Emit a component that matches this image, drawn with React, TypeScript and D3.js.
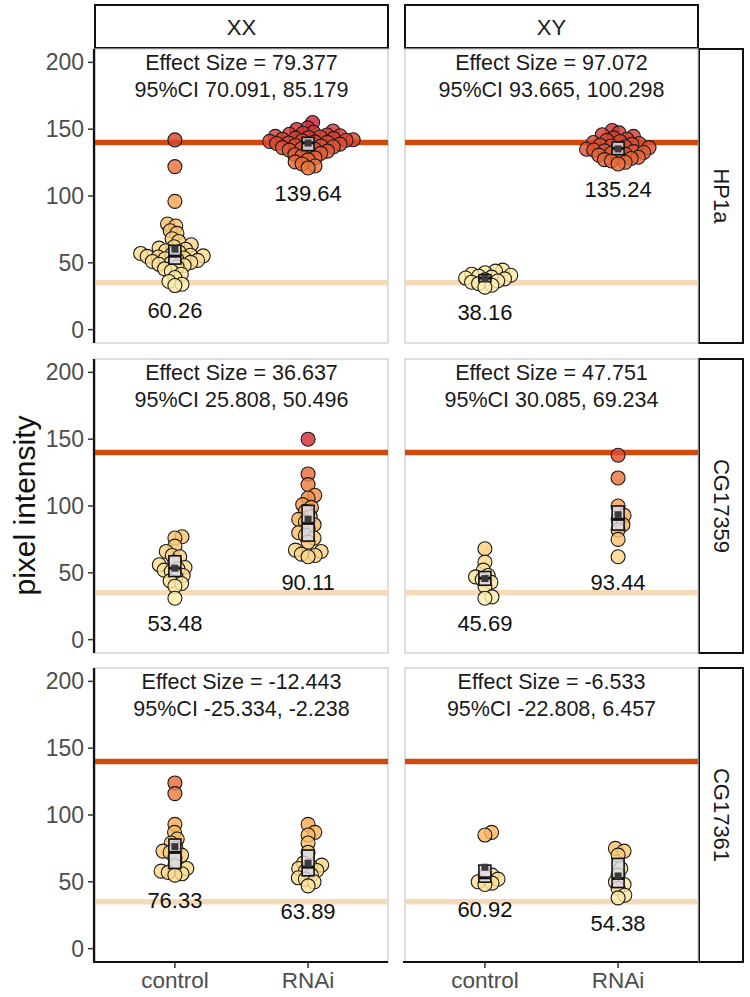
import * as d3 from "d3";

// facet levels
const genes = ["HP1a", "CG17359", "CG17361"];
const sexes = ["XX", "XY"];
const conditions = ["control", "RNAi"];

// pixel intensity per nucleus
const hp1aXXControl = [142, 122, 96, 79, 77.5, 74, 72, 68, 66, 63.5, 62, 61, 60.2, 59, 58.1, 57, 56.4, 55.7, 55.2, 54.8, 54.3, 53.6, 53, 52.4, 51.8, 51, 50.3, 49.6, 48.9, 48, 47, 45.5, 43.7, 41.5, 39, 36, 34, 33];
const hp1aXXRNAi = [155, 151, 149.8, 148.6, 147.7, 146.9, 146.2, 145.6, 145.1, 144.6, 144.1, 143.7, 143.3, 142.9, 142.5, 142.1, 141.7, 141.3, 140.9, 140.5, 140.1, 139.7, 139.3, 138.8, 138.3, 137.8, 137.3, 136.8, 136.2, 135.6, 135, 134.3, 133.6, 132.8, 131.9, 130.9, 129.8, 128.5, 127, 125.5, 124, 122.5, 121];
const hp1aXYControl = [44.5, 43.8, 42.6, 41.5, 40.7, 40, 39.3, 38.6, 38, 37.2, 36.4, 35.5, 34.4, 33.2, 31.8];
const hp1aXYRNAi = [149, 147.2, 145.8, 144.6, 143.5, 142.5, 141.6, 140.8, 140, 139.3, 138.6, 138, 137.4, 136.8, 136.2, 135.6, 135, 134.4, 133.8, 133.2, 132.6, 132, 131.3, 130.6, 129.8, 129, 128.1, 127.2, 126.2, 125.2, 124];
const cg17359XXControl = [77, 76, 70, 66, 63, 62, 58, 56, 54, 53, 52, 51, 48, 47, 44, 42, 40, 31];
const cg17359XXRNAi = [150, 124, 116, 108, 106, 101, 99, 96, 92, 90, 88, 86, 83, 80, 78, 76, 73, 67, 66, 64, 63, 62];
const cg17359XYControl = [68, 58, 52, 48, 47, 45, 43, 40, 32, 31];
const cg17359XYRNAi = [138, 121, 100, 93, 90, 86, 82, 75, 62];
const cg17361XXControl = [124, 116, 93, 87, 82, 79, 75, 73, 72, 70, 68, 62, 60, 58, 57, 56, 55];
const cg17361XXRNAi = [93, 87, 85, 79, 72, 64, 62.5, 62, 60, 58.5, 58, 55, 53, 52, 50, 47];
const cg17361XYControl = [87, 85, 55, 54, 52, 50, 49, 48];
const cg17361XYRNAi = [75, 73, 70, 60, 55, 50, 48, 45, 40, 38];

// group means shown under each swarm
const meansXX = [[60.26, 139.64], [53.48, 90.11], [76.33, 63.89]];
const meansXY = [[38.16, 135.24], [45.69, 93.44], [60.92, 54.38]];

// effect size with 95% CI per panel [XX, XY]
const effectSize = [[79.377, 97.072], [36.637, 47.751], [-12.443, -6.533]];
const ciLow = [[70.091, 93.665], [25.808, 30.085], [-25.334, -22.808]];
const ciHigh = [[85.179, 100.298], [50.496, 69.234], [-2.238, 6.457]];

const refHigh = 140;
const refLow = 35;
const yTicks = [0, 50, 100, 150, 200];

const values = [
  [[hp1aXXControl, hp1aXXRNAi], [hp1aXYControl, hp1aXYRNAi]],
  [[cg17359XXControl, cg17359XXRNAi], [cg17359XYControl, cg17359XYRNAi]],
  [[cg17361XXControl, cg17361XXRNAi], [cg17361XYControl, cg17361XYRNAi]],
];
const means = [meansXX, meansXY];

const font = "Liberation Sans, Arial, Helvetica, sans-serif";
const panelLeft = [95, 405];
const panelTop = [49, 359, 668];
const pw = 293;
const ph = 294;

const color = d3
  .scaleLinear<string>()
  .domain([30, 60, 90, 120, 140, 160])
  .range(["#fdf0b0", "#fbd98a", "#f9b058", "#eb763c", "#da4a30", "#c5173e"])
  .clamp(true);

// simple beeswarm: place each point as close to the centre as it can go
function swarm(ys: number[], d: number) {
  const placed: { x: number; y: number }[] = [];
  const out: number[] = new Array(ys.length).fill(0);
  const order = d3.range(ys.length).sort((a, b) => ys[b] - ys[a]);
  for (const i of order) {
    const y = ys[i];
    const cands = [0];
    for (const p of placed) {
      const dy = Math.abs(p.y - y);
      if (dy < d) {
        const dx = Math.sqrt(d * d - dy * dy);
        cands.push(p.x + dx + 0.01, p.x - dx - 0.01);
      }
    }
    cands.sort((a, b) => Math.abs(a) - Math.abs(b));
    let x = 0;
    for (const c of cands) {
      if (placed.every((p) => (p.x - c) ** 2 + (p.y - y) ** 2 >= d * d - 0.05)) {
        x = c;
        break;
      }
    }
    placed.push({ x, y });
    out[i] = x;
  }
  return out;
}

function Panel({ row, col }: { row: number; col: number }) {
  const x0 = panelLeft[col];
  const y0 = panelTop[row];
  // discrete x with ggplot's 0.6 expansion on each side
  const x = d3.scalePoint().domain(conditions).range([x0 + (0.6 / 2.2) * pw, x0 + (1.6 / 2.2) * pw]);
  const y = d3.scaleLinear().domain([-10, 210]).range([y0 + ph, y0]);
  return (
    <g>
      <rect x={x0} y={y0} width={pw} height={ph} fill="white" stroke="#c8c8c8" strokeWidth={1.2} />
      <line x1={x0} x2={x0 + pw} y1={y(refHigh)} y2={y(refHigh)} stroke="#cf4b0c" strokeWidth={5.5} />
      <line x1={x0} x2={x0 + pw} y1={y(refLow)} y2={y(refLow)} stroke="#f6d9b6" strokeWidth={5.5} />
      <text x={x0 + pw / 2} y={y0 + 21} textAnchor="middle" fontSize={21.5} fill="#1a1a1a">
        {`Effect Size = ${effectSize[row][col].toFixed(3)}`}
      </text>
      <text x={x0 + pw / 2} y={y0 + 48} textAnchor="middle" fontSize={21.5} fill="#1a1a1a">
        {`95%CI ${ciLow[row][col].toFixed(3)}, ${ciHigh[row][col].toFixed(3)}`}
      </text>
      {conditions.map((c, ci) => {
        const vals = values[row][col][ci];
        const ys = vals.map((v) => y(v));
        const offs = swarm(ys, 7.2);
        const cx = x(c)!;
        const sorted = [...vals].sort(d3.ascending);
        const q1 = d3.quantile(sorted, 0.25)!;
        const q3 = d3.quantile(sorted, 0.75)!;
        const med = d3.median(vals)!;
        const m = means[col][row][ci];
        const bw = 12;
        return (
          <g key={c}>
            {vals.map((v, i) => (
              <circle key={i} cx={cx + offs[i]} cy={ys[i]} r={7} fill={color(v)} fillOpacity={0.82} stroke="#1a1a1a" strokeWidth={1.1} />
            ))}
            <rect x={cx - bw / 2} y={y(q3)} width={bw} height={y(q1) - y(q3)} fill="#dcdcec" fillOpacity={0.8} stroke="#111" strokeWidth={1.6} />
            <line x1={cx - bw / 2} x2={cx + bw / 2} y1={y(med)} y2={y(med)} stroke="#111" strokeWidth={3} />
            <rect x={cx - 3.5} y={y(m) - 3.5} width={7} height={7} fill="#3a3a3a" />
            <text x={cx} y={y(d3.min(vals)! - 19)} textAnchor="middle" dominantBaseline="central" fontSize={22} fill="#111">
              {m.toFixed(2)}
            </text>
          </g>
        );
      })}
      {col === 0 && (
        <g>
          <line x1={x0 - 1} x2={x0 - 1} y1={y0} y2={y0 + ph} stroke="#111" strokeWidth={2.2} />
          {yTicks.map((t) => (
            <g key={t}>
              <line x1={x0 - 7} x2={x0 - 1} y1={y(t)} y2={y(t)} stroke="#333" strokeWidth={1.5} />
              <text x={x0 - 11} y={y(t)} textAnchor="end" dominantBaseline="central" fontSize={23} fill="#4d4d4d">
                {t}
              </text>
            </g>
          ))}
        </g>
      )}
      {row === genes.length - 1 && (
        <g>
          <line x1={x0 - 2} x2={x0 + pw} y1={y0 + ph} y2={y0 + ph} stroke="#111" strokeWidth={2.2} />
          {conditions.map((c) => (
            <g key={c}>
              <line x1={x(c)!} x2={x(c)!} y1={y0 + ph} y2={y0 + ph + 6} stroke="#333" strokeWidth={1.5} />
              <text x={x(c)!} y={y0 + ph + 26} textAnchor="middle" fontSize={22.5} fill="#4d4d4d">
                {c}
              </text>
            </g>
          ))}
        </g>
      )}
    </g>
  );
}

export default function App() {
  const stripRight = panelLeft[1] + pw + 1;
  return (
    <svg width={750} height={997} style={{ position: "absolute", left: 0, top: 0, display: "block", background: "white" }} fontFamily={font}>
      {sexes.map((s, col) => (
        <g key={s}>
          <rect x={panelLeft[col]} y={5} width={pw} height={43} fill="white" stroke="#111" strokeWidth={2} />
          <text x={panelLeft[col] + pw / 2} y={27} textAnchor="middle" dominantBaseline="central" fontSize={22} fill="#1a1a1a">
            {s}
          </text>
        </g>
      ))}
      {genes.map((g, row) => (
        <g key={g}>
          <rect x={stripRight} y={panelTop[row]} width={44} height={ph} fill="white" stroke="#111" strokeWidth={2} />
          <text
            transform={`translate(${stripRight + 22},${panelTop[row] + ph / 2}) rotate(90)`}
            textAnchor="middle"
            dominantBaseline="central"
            fontSize={22}
            fill="#1a1a1a"
          >
            {g}
          </text>
        </g>
      ))}
      {genes.map((g, row) => sexes.map((s, col) => <Panel key={g + s} row={row} col={col} />))}
      <text transform={`translate(24,${(panelTop[0] + panelTop[2] + ph) / 2}) rotate(-90)`} textAnchor="middle" dominantBaseline="central" fontSize={30} fill="#111">
        pixel intensity
      </text>
    </svg>
  );
}
